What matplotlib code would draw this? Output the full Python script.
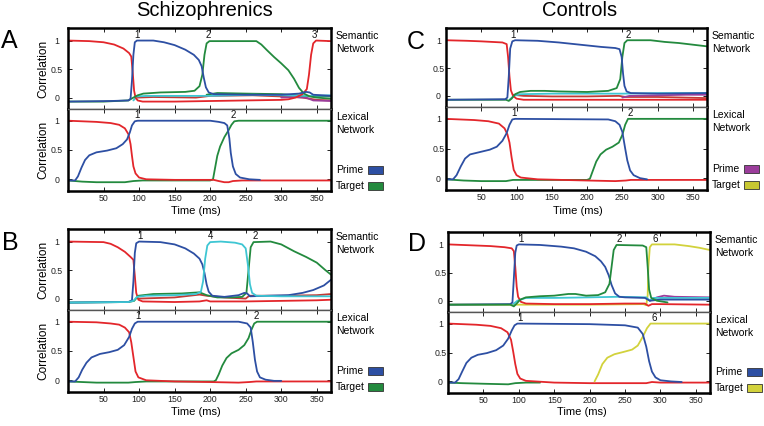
import matplotlib
matplotlib.use("Agg")
import matplotlib.pyplot as plt
from matplotlib.patches import Rectangle

# ---- data: (time ms, correlation) ----
# A: schizophrenics, semantic / lexical
a_sem_red = [(0, 1.0), (30, 0.99), (50, 0.97), (65, 0.93), (78, 0.86), (86, 0.78), (89, 0.72), (91, 0.45),
             (93, 0.12), (95, 0.0), (98, -0.05), (105, -0.07), (150, -0.07), (200, -0.06), (250, -0.05),
             (300, -0.04), (310, -0.03), (320, 0.0), (330, 0.06), (336, 0.15), (339, 0.4), (342, 0.75),
             (345, 0.95), (349, 1.0), (370, 0.99)]
a_sem_blue = [(0, -0.07), (60, -0.06), (85, -0.05), (88, -0.02), (90, 0.3), (92, 0.75), (94, 0.97), (97, 1.0),
              (120, 1.0), (135, 0.97), (150, 0.92), (165, 0.84), (177, 0.75), (184, 0.66), (188, 0.55),
              (191, 0.35), (194, 0.18), (198, 0.09), (205, 0.06), (250, 0.05), (300, 0.05), (325, 0.07),
              (335, 0.1), (340, 0.09), (345, 0.05), (370, 0.03)]
a_sem_green = [(0, -0.07), (50, -0.07), (85, -0.05), (92, 0.0), (98, 0.04), (106, 0.07), (130, 0.09),
               (165, 0.1), (178, 0.12), (185, 0.2), (189, 0.4), (192, 0.75), (195, 0.95), (199, 0.99),
               (265, 0.99), (272, 0.93), (280, 0.83), (290, 0.71), (300, 0.6), (310, 0.48), (318, 0.33),
               (325, 0.17), (332, 0.07), (340, 0.02), (350, 0.0), (370, -0.02)]
a_sem_cyan = [(92, -0.05), (97, 0.02), (110, 0.03), (200, 0.03), (260, 0.05), (300, 0.04), (340, 0.03),
              (370, 0.04)]
a_sem_red2 = [(97, 0.0), (120, 0.01), (180, 0.0), (200, 0.03), (260, 0.04), (300, 0.02), (330, 0.0),
              (350, -0.04), (370, -0.05)]
a_sem_green2 = [(195, 0.05), (210, 0.08), (250, 0.07), (300, 0.06), (330, 0.03), (370, 0.02)]
a_sem_purple = [(300, 0.0), (320, 0.01), (335, 0.0), (345, -0.05), (370, -0.06)]

a_lex_red = [(0, 1.0), (40, 0.98), (60, 0.96), (72, 0.93), (80, 0.87), (85, 0.77), (88, 0.6), (90, 0.4),
             (92, 0.22), (95, 0.1), (100, 0.03), (110, 0.0), (150, -0.01), (205, -0.01), (212, -0.03),
             (220, -0.05), (226, -0.05), (232, -0.03), (245, -0.02), (370, -0.02)]
a_lex_blue = [(0, -0.02), (10, -0.02), (14, 0.05), (19, 0.2), (24, 0.33), (30, 0.41), (40, 0.46), (55, 0.49),
              (68, 0.53), (77, 0.6), (83, 0.68), (87, 0.8), (90, 0.92), (94, 0.99), (98, 1.0), (200, 1.0),
              (212, 0.98), (220, 0.96), (224, 0.92), (227, 0.7), (229, 0.45), (232, 0.22), (236, 0.09),
              (242, 0.03), (255, 0.0), (270, -0.01)]
a_lex_green = [(0, -0.02), (20, -0.04), (40, -0.05), (80, -0.05), (92, -0.03), (105, -0.02), (200, -0.02),
               (204, 0.0), (207, 0.2), (210, 0.4), (214, 0.56), (220, 0.72), (226, 0.84), (230, 0.93),
               (234, 0.99), (240, 1.0), (370, 1.0)]

# B: schizophrenics, second condition
b_sem_red = [(0, 1.0), (50, 0.99), (60, 0.96), (70, 0.9), (80, 0.82), (88, 0.73), (92, 0.68), (94, 0.4),
             (96, 0.1), (99, -0.02), (105, -0.05), (150, -0.06), (185, -0.05), (195, -0.03), (200, -0.05),
             (250, -0.05), (300, -0.04), (350, -0.03), (370, -0.02)]
b_sem_red2 = [(100, 0.0), (150, 0.02), (185, 0.07), (195, 0.05), (220, 0.02), (250, 0.0), (255, 0.05),
              (300, 0.05), (350, 0.06), (370, 0.08)]
b_sem_blue = [(0, -0.07), (85, -0.06), (90, -0.03), (92, 0.3), (94, 0.8), (96, 0.97), (100, 1.0), (130, 0.99),
              (150, 0.95), (165, 0.88), (177, 0.79), (185, 0.7), (189, 0.6), (192, 0.45), (195, 0.25),
              (198, 0.12), (203, 0.05), (220, 0.03), (240, 0.06), (248, 0.1), (252, 0.09), (256, 0.04),
              (280, 0.05), (310, 0.06), (330, 0.1), (345, 0.15), (360, 0.23), (370, 0.33)]
b_sem_cyan = [(0, -0.07), (85, -0.06), (92, -0.04), (97, 0.03), (110, 0.05), (150, 0.06), (180, 0.08),
              (187, 0.12), (190, 0.3), (193, 0.7), (196, 0.93), (200, 0.99), (215, 1.0), (235, 0.98),
              (245, 0.95), (250, 0.88), (253, 0.6), (256, 0.25), (259, 0.1), (265, 0.05), (300, 0.04),
              (370, 0.04)]
b_sem_green = [(0, -0.07), (85, -0.06), (93, -0.04), (99, 0.05), (120, 0.08), (160, 0.09), (185, 0.11),
               (195, 0.06), (210, 0.02), (230, 0.02), (245, 0.03), (251, 0.1), (254, 0.5), (257, 0.9),
               (261, 0.99), (285, 1.0), (300, 0.95), (318, 0.83), (335, 0.73), (350, 0.63), (362, 0.5),
               (370, 0.42)]

b_lex_red = [(0, 1.0), (40, 0.99), (60, 0.97), (72, 0.95), (80, 0.9), (86, 0.82), (89, 0.65), (92, 0.4),
             (95, 0.15), (99, 0.05), (110, 0.0), (150, -0.02), (200, -0.03), (240, -0.04), (255, -0.03),
             (265, -0.02), (370, -0.02)]
b_lex_blue = [(0, -0.02), (10, -0.02), (15, 0.05), (20, 0.18), (26, 0.3), (33, 0.39), (45, 0.45), (58, 0.48),
              (70, 0.52), (79, 0.6), (86, 0.74), (90, 0.88), (94, 0.97), (98, 1.0), (240, 1.0), (252, 0.97),
              (257, 0.9), (260, 0.65), (263, 0.35), (266, 0.15), (270, 0.05), (278, 0.01), (290, -0.01),
              (300, -0.01)]
b_lex_green = [(0, -0.02), (20, -0.03), (40, -0.04), (85, -0.04), (95, -0.03), (110, -0.02), (205, -0.02),
               (208, 0.0), (212, 0.1), (217, 0.25), (223, 0.38), (230, 0.46), (240, 0.52), (248, 0.6),
               (254, 0.72), (258, 0.86), (262, 0.97), (266, 1.0), (370, 1.0)]

# C: controls
c_sem_red = [(0, 1.0), (30, 0.99), (50, 0.98), (80, 0.96), (86, 0.93), (88, 0.7), (90, 0.35), (92, 0.1),
             (95, 0.0), (100, -0.05), (110, -0.07), (200, -0.07), (250, -0.07), (300, -0.07), (370, -0.07)]
c_sem_red2 = [(95, 0.02), (110, 0.0), (150, -0.01), (200, -0.01), (245, 0.0), (255, -0.02), (300, -0.02),
              (370, -0.04)]
c_sem_blue = [(0, -0.07), (84, -0.06), (87, -0.03), (89, 0.35), (91, 0.85), (94, 0.98), (98, 1.0), (130, 0.99),
              (160, 0.96), (190, 0.92), (220, 0.88), (240, 0.86), (246, 0.84), (249, 0.7), (251, 0.4),
              (253, 0.18), (256, 0.08), (262, 0.05), (300, 0.04), (370, 0.05)]
c_sem_green = [(0, -0.07), (85, -0.07), (89, -0.09), (93, -0.05), (98, 0.03), (105, 0.07), (120, 0.09),
               (140, 0.09), (160, 0.08), (200, 0.07), (230, 0.09), (242, 0.14), (247, 0.3), (250, 0.7),
               (253, 0.95), (257, 1.0), (290, 1.0), (310, 0.97), (330, 0.95), (350, 0.92), (370, 0.89)]
c_sem_cyan = [(90, -0.07), (96, 0.0), (105, 0.03), (150, 0.04), (200, 0.04), (250, 0.04), (300, 0.05),
              (370, 0.05)]
c_sem_purple = [(250, -0.03), (260, 0.0), (300, 0.01), (340, 0.02), (370, 0.02)]

c_lex_red = [(0, 1.0), (40, 0.98), (60, 0.96), (75, 0.92), (83, 0.84), (87, 0.74), (90, 0.6), (93, 0.35),
             (96, 0.14), (100, 0.05), (106, 0.01), (130, -0.02), (200, -0.04), (240, -0.05), (255, -0.04),
             (262, -0.03), (370, -0.03)]
c_lex_blue = [(0, -0.02), (10, -0.02), (15, 0.05), (21, 0.2), (27, 0.33), (34, 0.4), (48, 0.44), (62, 0.48),
              (72, 0.53), (80, 0.63), (86, 0.76), (90, 0.9), (94, 0.99), (98, 1.0), (230, 0.99), (240, 0.96),
              (246, 0.9), (250, 0.78), (254, 0.5), (257, 0.3), (261, 0.13), (266, 0.05), (275, 0.0),
              (285, -0.02)]
c_lex_green = [(0, -0.02), (25, -0.04), (50, -0.05), (85, -0.05), (95, -0.03), (120, -0.03), (200, -0.03),
               (204, -0.01), (208, 0.12), (213, 0.28), (219, 0.4), (227, 0.48), (236, 0.53), (245, 0.6),
               (250, 0.73), (254, 0.9), (258, 1.0), (370, 1.0)]

# D: controls, second condition
d_sem_red = [(0, 1.0), (40, 0.98), (60, 0.97), (80, 0.95), (90, 0.93), (93, 0.88), (95, 0.6), (97, 0.25),
             (99, 0.07), (103, -0.02), (110, -0.05), (150, -0.06), (200, -0.06), (250, -0.05), (278, -0.05),
             (283, -0.09), (288, -0.06), (300, -0.06), (370, -0.07)]
d_sem_blue = [(0, -0.07), (88, -0.06), (91, -0.03), (93, 0.4), (95, 0.85), (97, 0.98), (100, 1.0), (130, 0.99),
              (160, 0.96), (178, 0.93), (195, 0.87), (208, 0.79), (216, 0.7), (222, 0.6), (227, 0.45),
              (231, 0.28), (236, 0.13), (242, 0.07), (250, 0.06), (278, 0.05), (285, 0.0), (300, 0.02),
              (370, 0.02)]
d_sem_green = [(0, -0.07), (88, -0.07), (93, -0.1), (97, -0.05), (102, 0.02), (110, 0.06), (130, 0.08),
               (150, 0.09), (170, 0.12), (180, 0.12), (195, 0.09), (212, 0.1), (222, 0.15), (228, 0.3),
               (231, 0.6), (234, 0.9), (238, 0.99), (275, 0.98), (280, 0.95), (282, 0.6), (284, 0.2),
               (287, 0.05), (295, 0.0), (310, -0.03)]
d_sem_yellow = [(0, -0.07), (200, -0.07), (276, -0.06), (280, -0.08), (282, 0.1), (283, 0.6), (285, 0.95),
                (288, 1.0), (320, 1.0), (340, 0.97), (355, 0.94), (370, 0.9)]
d_sem_cyan = [(92, -0.06), (98, 0.0), (110, 0.05), (150, 0.05), (200, 0.06), (240, 0.07), (280, 0.06),
              (285, 0.0), (290, 0.05), (370, 0.05)]
d_sem_purple = [(285, 0.0), (295, 0.06), (305, 0.09), (320, 0.07), (370, 0.06)]

d_lex_red = [(0, 1.0), (40, 0.98), (60, 0.96), (75, 0.92), (84, 0.85), (89, 0.72), (92, 0.52), (95, 0.3),
             (98, 0.13), (102, 0.05), (110, 0.01), (150, -0.02), (200, -0.03), (280, -0.03), (288, -0.01),
             (300, -0.02), (370, -0.02)]
d_lex_blue = [(0, -0.02), (10, -0.02), (15, 0.04), (20, 0.17), (26, 0.32), (33, 0.41), (42, 0.46), (55, 0.49),
              (68, 0.54), (78, 0.62), (85, 0.74), (90, 0.88), (94, 0.97), (98, 1.0), (200, 0.99), (250, 0.97),
              (268, 0.93), (275, 0.82), (280, 0.6), (284, 0.35), (288, 0.17), (293, 0.07), (300, 0.02),
              (315, 0.0), (330, -0.01)]
d_lex_yellow = [(207, 0.0), (212, 0.12), (218, 0.3), (225, 0.41), (235, 0.47), (248, 0.51), (260, 0.55),
                (268, 0.62), (275, 0.77), (281, 0.92), (286, 1.0), (370, 1.0)]
d_lex_green = [(0, -0.02), (20, -0.03), (50, -0.04), (85, -0.05), (95, -0.03), (110, -0.02), (130, -0.02)]

# peak labels (text, time)
a_sem_marks = [("1", 97), ("2", 198), ("3", 347)]
a_lex_marks = [("1", 97), ("2", 232)]
b_sem_marks = [("1", 101), ("4", 201), ("2", 264)]
b_lex_marks = [("1", 99), ("2", 265)]
c_sem_marks = [("1", 95), ("2", 258)]
c_lex_marks = [("1", 96), ("2", 261)]
d_sem_marks = [("1", 103), ("2", 242), ("6", 293)]
d_lex_marks = [("1", 101), ("6", 291)]

x_ticks = [50, 100, 150, 200, 250, 300, 350]
y_ticks = [0, 0.5, 1]
y_tick_labels = ["0", "0.5", "1"]

RED = "#e3262b"
RED2 = "#c23a35"
BLUE = "#2d4fa3"
GREEN = "#238a3e"
CYAN = "#3ec6d3"
YELLOW = "#d2d23c"
PURPLE = "#9b3d9b"

W, H = 764, 426
FONT = "Liberation Sans"

fig = plt.figure(figsize=(W / 100, H / 100), dpi=100)


def px_axes(left, top, right, bottom):
    return fig.add_axes([left / W, 1 - bottom / H, (right - left) / W, (bottom - top) / H])


def fig_text(x, y, s, **kw):
    fig.text(x / W, 1 - y / H, s, family=FONT, **kw)


def style(ax, ylim, show_x, ypad):
    ax.set_xlim(0, 370)
    ax.set_ylim(*ylim)
    ax.set_xticks(x_ticks)
    ax.set_yticks(y_ticks)
    ax.set_yticklabels(y_tick_labels)
    ax.tick_params(direction="in", top=True, right=True, length=3, width=0.7,
                   labelsize=6.3, labelbottom=show_x, colors="#222222")
    ax.tick_params(axis="x", pad=2.5)
    ax.tick_params(axis="y", pad=ypad)
    for lab in ax.get_xticklabels() + ax.get_yticklabels():
        lab.set_family(FONT)
    for lab in ax.get_yticklabels():
        lab.set_horizontalalignment("center")


def draw(ax, series, marks):
    for pts, color in series:
        t, y = zip(*pts)
        ax.plot(t, y, color=color, lw=1.3, solid_joinstyle="round", solid_capstyle="round")
    for s, t in marks:
        ax.text(t, 1.1, s, ha="center", va="center", fontsize=7, family=FONT, color="#111111")


panels = [
    dict(letter="A", box=(68, 28, 109, 331, 191), ylabel=True, legend=(BLUE, GREEN), ypad=8,
         sem=[(a_sem_red2, RED2), (a_sem_purple, PURPLE), (a_sem_green2, GREEN), (a_sem_cyan, CYAN),
              (a_sem_red, RED), (a_sem_green, GREEN), (a_sem_blue, BLUE)],
         lex=[(a_lex_green, GREEN), (a_lex_red, RED), (a_lex_blue, BLUE)],
         sem_marks=a_sem_marks, lex_marks=a_lex_marks, letter_xy=(9, 41), time_xy=(196, 211)),
    dict(letter="B", box=(68, 229, 310, 331, 392), ylabel=True, legend=(BLUE, GREEN), ypad=8,
         sem=[(b_sem_red2, RED2), (b_sem_red, RED), (b_sem_green, GREEN), (b_sem_blue, BLUE),
              (b_sem_cyan, CYAN)],
         lex=[(b_lex_green, GREEN), (b_lex_red, RED), (b_lex_blue, BLUE)],
         sem_marks=b_sem_marks, lex_marks=b_lex_marks, letter_xy=(10, 243), time_xy=(196, 412)),
    dict(letter="C", box=(446, 28, 107, 707, 190), ylabel=False, legend=(PURPLE, "#c8c832"), ypad=5.5,
         sem=[(c_sem_red2, RED2), (c_sem_purple, PURPLE), (c_sem_cyan, CYAN), (c_sem_red, RED),
              (c_sem_green, GREEN), (c_sem_blue, BLUE)],
         lex=[(c_lex_green, GREEN), (c_lex_red, RED), (c_lex_blue, BLUE)],
         sem_marks=c_sem_marks, lex_marks=c_lex_marks, letter_xy=(416, 42), time_xy=(578, 211)),
    dict(letter="D", box=(448, 232, 312, 710, 393), ylabel=False, legend=(BLUE, YELLOW), ypad=5.5,
         sem=[(d_sem_yellow, YELLOW), (d_sem_purple, PURPLE), (d_sem_cyan, CYAN), (d_sem_red, RED),
              (d_sem_blue, BLUE), (d_sem_green, GREEN)],
         lex=[(d_lex_green, GREEN), (d_lex_red, RED), (d_lex_yellow, YELLOW), (d_lex_blue, BLUE)],
         sem_marks=d_sem_marks, lex_marks=d_lex_marks, letter_xy=(417, 244), time_xy=(582, 412)),
]

for p in panels:
    left, top, mid, right, bottom = p["box"]
    ax_s = px_axes(left, top, right, mid)
    ax_l = px_axes(left, mid, right, bottom)
    style(ax_s, (-0.2, 1.22), False, p["ypad"])
    style(ax_l, (-0.2, 1.2), True, p["ypad"])
    draw(ax_s, p["sem"], p["sem_marks"])
    draw(ax_l, p["lex"], p["lex_marks"])
    for ax, inner in ((ax_s, "bottom"), (ax_l, "top")):
        for name, sp in ax.spines.items():
            if name == inner:
                sp.set_color("#555555")
                sp.set_linewidth(1.0)
            else:
                sp.set_color("black")
                sp.set_linewidth(1.8)
    if p["ylabel"]:
        for ax in (ax_s, ax_l):
            ax.set_ylabel("Correlation", family=FONT, fontsize=8.6, labelpad=1)
    tx_, ty_ = p["time_xy"]
    fig_text(tx_, ty_, "Time (ms)", ha="center", va="center", fontsize=8)
    lx, ly = p["letter_xy"]
    fig_text(lx, ly, p["letter"], ha="center", va="center", fontsize=18)

    tx = right + 5
    fig_text(tx, top + 3, "Semantic\nNetwork", ha="left", va="top", fontsize=7.5, linespacing=1.35)
    fig_text(tx, mid + 3, "Lexical\nNetwork", ha="left", va="top", fontsize=7.5, linespacing=1.35)
    for label, color, dy in (("Prime", p["legend"][0], 21), ("Target", p["legend"][1], 5)):
        fig_text(tx, bottom - dy, label, ha="left", va="center", fontsize=7.5)
        fig.add_artist(Rectangle(((right + 37) / W, 1 - (bottom - dy + 4) / H), 15 / W, 8 / H,
                                 transform=fig.transFigure, facecolor=color,
                                 edgecolor="#333333", lw=0.6))

fig_text(205, 11, "Schizophrenics", ha="center", va="center", fontsize=14.5)
fig_text(580, 11, "Controls", ha="center", va="center", fontsize=14.5)

fig.savefig("out.png", dpi=100)
